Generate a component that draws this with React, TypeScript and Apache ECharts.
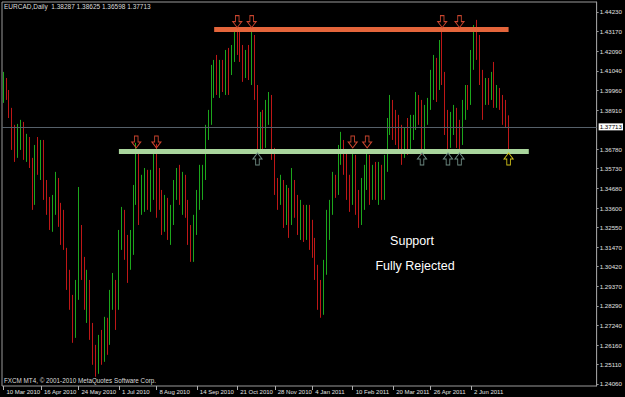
import React, { useEffect, useRef } from "react";
import * as echarts from "echarts";

const FONT = "Liberation Sans, Arial, sans-serif";

// Daily-ish candles (EURCAD)
const opens = [
  1.3946, 1.4044, 1.3973, 1.3881, 1.3729, 1.3675, 1.3773, 1.38, 1.3675, 1.3718,
  1.3621, 1.3415, 1.3675, 1.3594, 1.3675, 1.3485, 1.3377, 1.3339, 1.3404, 1.3485,
  1.3323, 1.3268, 1.3133, 1.297, 1.2862, 1.2699, 1.2916, 1.3214, 1.3025, 1.2862,
  1.2943, 1.2699, 1.2564, 1.2494, 1.2618, 1.2564, 1.2699, 1.2645, 1.2862, 1.2916,
  1.2862, 1.3187, 1.3296, 1.316, 1.3052, 1.316, 1.3404, 1.3621, 1.3404, 1.3458,
  1.354, 1.3404, 1.3512, 1.3621, 1.354, 1.3404, 1.3268, 1.335, 1.3268, 1.3323,
  1.3458, 1.354, 1.3458, 1.3512, 1.3377, 1.3214, 1.3133, 1.3268, 1.3404, 1.3485,
  1.354, 1.3756, 1.3865, 1.4054, 1.4109, 1.4027, 1.4081, 1.4054, 1.4163, 1.4119,
  1.419, 1.4298, 1.4271, 1.419, 1.4109, 1.4152, 1.4081, 1.4271, 1.4, 1.3783,
  1.3838, 1.3729, 1.3892, 1.3946, 1.3675, 1.3485, 1.3431, 1.3485, 1.335, 1.3431,
  1.3323, 1.3458, 1.3377, 1.3268, 1.335, 1.3241, 1.3323, 1.3214, 1.316, 1.3025,
  1.2862, 1.2808, 1.3025, 1.3241, 1.335, 1.3485, 1.3458, 1.3648, 1.3702, 1.3594,
  1.3485, 1.3404, 1.3594, 1.3404, 1.3323, 1.3431, 1.354, 1.3621, 1.3458, 1.354,
  1.3485, 1.3567, 1.3458, 1.3621, 1.3811, 1.3892, 1.3811, 1.3783, 1.3729, 1.3675,
  1.3756, 1.3729, 1.3811, 1.3838, 1.3919, 1.3892, 1.3702, 1.3865, 1.3919, 1.4054,
  1.4136, 1.4054, 1.4163, 1.4054, 1.3838, 1.3783, 1.3838, 1.3865, 1.3783, 1.3729,
  1.3892, 1.3973, 1.3946, 1.4163, 1.4298, 1.4244, 1.4081, 1.3973, 1.4027, 1.3973,
  1.4054, 1.3946, 1.3973, 1.3919, 1.3892, 1.38287,
];
const closes = [
  1.4054, 1.3973, 1.3892, 1.3729, 1.3648, 1.3783, 1.3811, 1.3675, 1.3729, 1.3621,
  1.3404, 1.3675, 1.3594, 1.3675, 1.3485, 1.3377, 1.335, 1.3404, 1.3485, 1.3323,
  1.3268, 1.3187, 1.297, 1.2862, 1.2699, 1.2916, 1.3241, 1.3025, 1.2862, 1.297,
  1.2699, 1.2564, 1.2483, 1.2618, 1.2564, 1.2699, 1.2645, 1.2862, 1.2916, 1.2835,
  1.3187, 1.3296, 1.316, 1.3052, 1.316, 1.3404, 1.3648, 1.3404, 1.3485, 1.354,
  1.3404, 1.3512, 1.3621, 1.354, 1.3404, 1.3268, 1.335, 1.3268, 1.3323, 1.3458,
  1.354, 1.3458, 1.3512, 1.3377, 1.3214, 1.3133, 1.3268, 1.3404, 1.3485, 1.354,
  1.3756, 1.3865, 1.4054, 1.4109, 1.4027, 1.4081, 1.4054, 1.4163, 1.4109, 1.419,
  1.4298, 1.4271, 1.419, 1.4109, 1.4163, 1.4081, 1.4298, 1.4, 1.3783, 1.3838,
  1.3729, 1.3892, 1.3946, 1.3675, 1.3485, 1.3431, 1.3485, 1.335, 1.3431, 1.3323,
  1.3458, 1.3377, 1.3268, 1.335, 1.3241, 1.3323, 1.3214, 1.316, 1.3025, 1.2862,
  1.2808, 1.3025, 1.3241, 1.335, 1.3485, 1.3458, 1.3648, 1.3702, 1.3594, 1.3485,
  1.3404, 1.3594, 1.3404, 1.3323, 1.3431, 1.354, 1.3621, 1.3458, 1.354, 1.3485,
  1.3567, 1.3458, 1.3621, 1.3811, 1.3892, 1.3811, 1.3783, 1.3729, 1.3675, 1.3756,
  1.3729, 1.3811, 1.3838, 1.3919, 1.3892, 1.3702, 1.3865, 1.3919, 1.4054, 1.4136,
  1.4054, 1.4163, 1.4054, 1.3838, 1.3783, 1.3838, 1.3865, 1.3783, 1.3729, 1.3892,
  1.3973, 1.3946, 1.4163, 1.4298, 1.4244, 1.4081, 1.3973, 1.4027, 1.3973, 1.4054,
  1.3946, 1.3973, 1.3919, 1.3892, 1.3838, 1.37713,
];
const highs = [
  1.4098, 1.4065, 1.4, 1.3903, 1.3811, 1.3816, 1.3838, 1.3827, 1.3762, 1.3745,
  1.3632, 1.3702, 1.3745, 1.3729, 1.3729, 1.3512, 1.342, 1.3431, 1.3556, 1.3523,
  1.3388, 1.335, 1.3144, 1.3025, 1.2889, 1.297, 1.3474, 1.3268, 1.3095, 1.3025,
  1.297, 1.2737, 1.2618, 1.2672, 1.2699, 1.277, 1.2765, 1.2916, 1.3008, 1.297,
  1.3241, 1.3366, 1.335, 1.3214, 1.3241, 1.3485, 1.3713, 1.3664, 1.354, 1.3577,
  1.3567, 1.3567, 1.3664, 1.3708, 1.3577, 1.3458, 1.3431, 1.3415, 1.3377, 1.3512,
  1.3577, 1.3594, 1.3556, 1.354, 1.3404, 1.3268, 1.3323, 1.3458, 1.3594, 1.3594,
  1.3811, 1.3892, 1.4136, 1.4163, 1.419, 1.4163, 1.4163, 1.4217, 1.4228, 1.4244,
  1.4336, 1.4325, 1.4314, 1.4244, 1.4217, 1.4244, 1.4325, 1.4298, 1.4027, 1.3881,
  1.3892, 1.3946, 1.3989, 1.3973, 1.3686, 1.3523, 1.354, 1.3512, 1.3485, 1.3469,
  1.3577, 1.3512, 1.3431, 1.3404, 1.3377, 1.3377, 1.3377, 1.3296, 1.3198, 1.3052,
  1.297, 1.3079, 1.335, 1.3404, 1.3556, 1.354, 1.3702, 1.3773, 1.3729, 1.3664,
  1.354, 1.3664, 1.3648, 1.3458, 1.3523, 1.3594, 1.3664, 1.3648, 1.3594, 1.361,
  1.361, 1.3594, 1.3648, 1.3848, 1.3973, 1.3946, 1.3892, 1.3865, 1.3811, 1.3794,
  1.3848, 1.3865, 1.3865, 1.3989, 1.3973, 1.3946, 1.3919, 1.3957, 1.4109, 1.419,
  1.4174, 1.4271, 1.4325, 1.4098, 1.3892, 1.3881, 1.3919, 1.3903, 1.3838, 1.3946,
  1.4027, 1.4027, 1.4217, 1.4352, 1.438, 1.4298, 1.4109, 1.4065, 1.4065, 1.4098,
  1.4152, 1.4027, 1.4011, 1.3973, 1.3946, 1.38625,
];
const lows = [
  1.393, 1.3946, 1.3848, 1.3675, 1.361, 1.3632, 1.3675, 1.3621, 1.361, 1.3577,
  1.335, 1.3377, 1.354, 1.3512, 1.3404, 1.3323, 1.3241, 1.3231, 1.3323, 1.3258,
  1.316, 1.3133, 1.2916, 1.2808, 1.2629, 1.2656, 1.2862, 1.297, 1.2808, 1.2737,
  1.2645, 1.251, 1.2445, 1.2461, 1.251, 1.2526, 1.2564, 1.2618, 1.2808, 1.2699,
  1.2808, 1.3133, 1.3079, 1.2954, 1.3025, 1.3106, 1.3377, 1.3268, 1.3323, 1.3339,
  1.335, 1.3339, 1.3404, 1.3307, 1.335, 1.3214, 1.3231, 1.3187, 1.316, 1.3268,
  1.3404, 1.3377, 1.3323, 1.3307, 1.316, 1.3068, 1.3068, 1.3214, 1.335, 1.3404,
  1.3512, 1.3729, 1.3811, 1.3957, 1.3973, 1.3957, 1.3989, 1.3973, 1.3973, 1.4081,
  1.4152, 1.419, 1.4152, 1.4044, 1.4065, 1.4054, 1.4027, 1.3946, 1.3664, 1.3675,
  1.3664, 1.3686, 1.3811, 1.3621, 1.3431, 1.335, 1.3377, 1.3252, 1.3268, 1.3198,
  1.3268, 1.3307, 1.3214, 1.3187, 1.3176, 1.3187, 1.3133, 1.309, 1.297, 1.2808,
  1.2765, 1.2781, 1.2998, 1.3187, 1.3323, 1.3415, 1.3431, 1.3594, 1.354, 1.3404,
  1.3339, 1.3377, 1.3323, 1.3252, 1.3268, 1.335, 1.3458, 1.3377, 1.3404, 1.3404,
  1.3377, 1.3404, 1.3404, 1.3556, 1.3756, 1.3729, 1.3702, 1.3675, 1.3594, 1.3632,
  1.3648, 1.3664, 1.3729, 1.3783, 1.3811, 1.3648, 1.3675, 1.3811, 1.3892, 1.3946,
  1.3935, 1.4, 1.4027, 1.3756, 1.3659, 1.3686, 1.3756, 1.3686, 1.3664, 1.3702,
  1.3838, 1.3892, 1.3919, 1.4109, 1.4163, 1.4027, 1.3838, 1.3919, 1.3919, 1.3946,
  1.3903, 1.3903, 1.3892, 1.3811, 1.3794, 1.36598,
];

const slotCount = 206; // candle slots incl. empty right margin (chart shift)
const dateLabels = [
  "10 Mar 2010", "16 Apr 2010", "24 May 2010", "1 Jul 2010", "8 Aug 2010",
  "14 Sep 2010", "21 Oct 2010", "28 Nov 2010", "4 Jan 2011", "10 Feb 2011",
  "20 Mar 2011", "26 Apr 2011", "2 Jun 2011",
];
const dateLabelIndex = [0, 13, 26, 40, 53, 67, 81, 94, 107, 121, 135, 148, 162];

const yTicks = [
  1.2406, 1.2511, 1.2616, 1.2724, 1.2829, 1.2937, 1.3042, 1.3147, 1.3255, 1.336,
  1.3468, 1.3573, 1.3678, 1.3891, 1.3996, 1.4104, 1.4209, 1.4317, 1.4423,
];
const yMin = 1.2395;
const yMax = 1.4477;

const lastPrice = 1.37713;
const resistanceLevel = 1.4328;
const resistanceRange = [73, 175];
const supportLevel = 1.3667;
const supportRange = [40, 182];

const resistanceArrowIdx = [81, 86, 152, 158];
const resistanceArrowPrice = 1.4371;
const supportDownArrowIdx = [46, 53, 121, 126];
const supportDownArrowPrice = 1.3718;
const supportUpArrowIdx = [88, 145, 154, 158];
const supportUpArrowPrice = 1.3626;
const finalArrowIdx = [175];

const DOWN_ARROW = "path://M3,0L7,0L7,6L10,6L5,12L0,6L3,6Z";
const UP_ARROW = "path://M5,0L10,6L7,6L7,12L3,12L3,6L0,6Z";

export default function App() {
  const ref = useRef<HTMLDivElement>(null);

  useEffect(() => {
    if (!ref.current) return;
    const chart = echarts.init(ref.current, null, { renderer: "svg" });

    const labelSet = new Set(dateLabelIndex);
    const categories: string[] = [];
    for (let i = 0; i < slotCount; i++) {
      const k = dateLabelIndex.indexOf(i);
      categories.push(k >= 0 ? dateLabels[k] : String(i));
    }
    const candles = opens.map((o, i) => [o, closes[i], lows[i], highs[i]]);

    const arrow = (idx: number, price: number, symbol: string, color: string) => ({
      coord: [idx, price],
      symbol,
      itemStyle: { color: "rgba(0,0,0,0)", borderColor: color, borderWidth: 1 },
    });

    const markPoints = [
      ...resistanceArrowIdx.map((i) => arrow(i, resistanceArrowPrice, DOWN_ARROW, "#c9452e")),
      ...supportDownArrowIdx.map((i) => arrow(i, supportDownArrowPrice, DOWN_ARROW, "#c9452e")),
      ...supportUpArrowIdx.map((i) => arrow(i, supportUpArrowPrice, UP_ARROW, "#6f8c84")),
      ...finalArrowIdx.map((i) => arrow(i, supportUpArrowPrice, UP_ARROW, "#d2c31a")),
    ];

    chart.setOption({
      animation: false,
      backgroundColor: "#000000",
      grid: {
        left: 2,
        top: 2,
        right: 23,
        bottom: 11,
        show: true,
        borderColor: "#9a9a9a",
        borderWidth: 1,
        backgroundColor: "#000000",
      },
      xAxis: {
        type: "category",
        data: categories,
        boundaryGap: true,
        axisLine: { show: false },
        axisTick: {
          show: true,
          alignWithLabel: true,
          interval: (i: number) => labelSet.has(i),
          length: 4,
          lineStyle: { color: "#b0b0b0" },
        },
        axisLabel: {
          interval: (i: number) => labelSet.has(i),
          align: "left",
          color: "#e0e0e0",
          fontSize: 6,
          fontFamily: FONT,
          margin: 3,
          padding: [0, 0, 0, 3],
        },
        splitLine: { show: false },
      },
      yAxis: {
        type: "value",
        position: "right",
        min: yMin,
        max: yMax,
        scale: true,
        splitLine: { show: false },
        axisLine: { show: true, lineStyle: { color: "#9a9a9a" } },
        axisTick: {
          show: true,
          length: 2,
          customValues: yTicks,
          lineStyle: { color: "#9a9a9a" },
        },
        axisLabel: {
          customValues: yTicks,
          formatter: (v: number) => v.toFixed(5),
          color: "#e0e0e0",
          fontSize: 6.2,
          fontFamily: FONT,
          margin: 3,
        },
      },
      series: [
        {
          type: "candlestick",
          data: candles,
          barWidth: 1.3,
          itemStyle: {
            color: "#1ca61c",
            color0: "#be1717",
            borderColor: "#1ca61c",
            borderColor0: "#be1717",
            borderWidth: 1,
          },
          markLine: {
            silent: true,
            symbol: ["none", "none"],
            animation: false,
            data: [
              {
                yAxis: lastPrice,
                lineStyle: { color: "#56606a", width: 1, type: "solid" },
                label: {
                  show: true,
                  position: "end",
                  formatter: lastPrice.toFixed(5),
                  backgroundColor: "#ffffff",
                  color: "#000000",
                  fontSize: 6.2,
                  fontFamily: FONT,
                  padding: [1, 1, 0, 1],
                  distance: 2,
                },
              },
              [
                {
                  coord: [resistanceRange[0], resistanceLevel],
                  lineStyle: { color: "#e4653b", width: 5, type: "solid" },
                  label: { show: false },
                },
                { coord: [resistanceRange[1], resistanceLevel] },
              ],
              [
                {
                  coord: [supportRange[0], supportLevel],
                  lineStyle: { color: "#a9d59c", width: 5, type: "solid" },
                  label: { show: false },
                },
                { coord: [supportRange[1], supportLevel] },
              ],
            ],
          },
          markPoint: {
            silent: true,
            symbolSize: [9, 12],
            label: { show: false },
            animation: false,
            data: markPoints,
          },
        },
      ],
      graphic: [
        {
          type: "text",
          left: 4,
          top: 3,
          style: {
            text: "EURCAD,Daily  1.38287 1.38625 1.36598 1.37713",
            fill: "#dcdcdc",
            fontSize: 6.5,
            fontFamily: FONT,
          },
        },
        {
          type: "text",
          left: 4,
          top: 377,
          style: {
            text: "FXCM MT4, \u00A9 2001-2010 MetaQuotes Software Corp.",
            fill: "#dcdcdc",
            fontSize: 6.3,
            fontFamily: FONT,
          },
        },
        {
          type: "text",
          x: 412,
          y: 241,
          style: {
            text: "Support",
            fill: "#ffffff",
            fontSize: 12.5,
            fontFamily: FONT,
            align: "center",
            verticalAlign: "middle",
          },
        },
        {
          type: "text",
          x: 415,
          y: 266,
          style: {
            text: "Fully Rejected",
            fill: "#ffffff",
            fontSize: 12.5,
            fontFamily: FONT,
            align: "center",
            verticalAlign: "middle",
          },
        },
      ],
    });

    return () => chart.dispose();
  }, []);

  return (
    <div
      ref={ref}
      style={{
        position: "fixed",
        left: 0,
        top: 0,
        width: 625,
        height: 397,
        background: "#000000",
      }}
    />
  );
}
